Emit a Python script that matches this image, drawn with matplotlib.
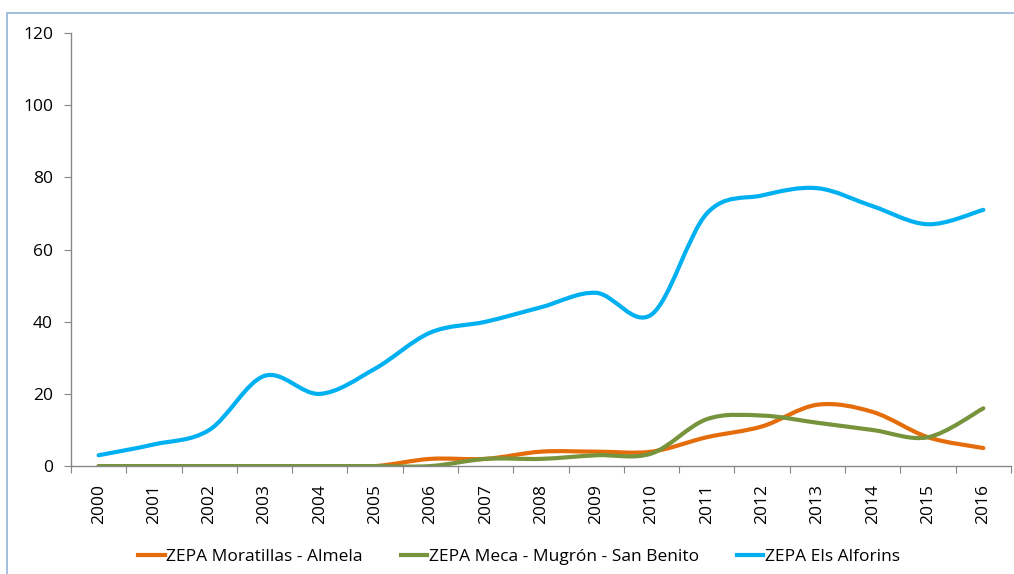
import matplotlib
matplotlib.use("Agg")
import matplotlib.pyplot as plt
from matplotlib.path import Path
from matplotlib.patches import PathPatch
from matplotlib.lines import Line2D

# data
years = [str(y) for y in range(2000, 2017)]
moratillas = [0, 0, 0, 0, 0, 0, 2, 2, 4, 4, 4, 8, 11, 17, 15, 8, 5]
meca = [0, 0, 0, 0, 0, 0, 0, 2, 2, 3, 3.5, 13, 14, 12, 10, 8, 16]
alforins = [3, 6, 10, 25, 20, 27, 37, 40, 44, 48, 42, 70, 75, 77, 72, 67, 71]
labels = ["ZEPA Moratillas - Almela", "ZEPA Meca - Mugrón - San Benito", "ZEPA Els Alforins"]
colors = ["#E46C0A", "#77933C", "#00B0F0"]

plt.rcParams['font.family'] = ['Open Sans', 'DejaVu Sans']


def smooth_path(xs, ys):
    # Excel-style smoothed line: cubic bezier through every point
    pts = list(zip(xs, ys))
    n = len(pts)
    verts = [pts[0]]
    codes = [Path.MOVETO]
    for i in range(n - 1):
        p0 = pts[i - 1] if i > 0 else pts[i]
        p1 = pts[i]
        p2 = pts[i + 1]
        p3 = pts[i + 2] if i + 2 < n else pts[i + 1]
        c1 = (p1[0] + (p2[0] - p0[0]) / 6, p1[1] + (p2[1] - p0[1]) / 6)
        c2 = (p2[0] - (p3[0] - p1[0]) / 6, p2[1] - (p3[1] - p1[1]) / 6)
        verts += [c1, c2, p2]
        codes += [Path.CURVE4] * 3
    return Path(verts, codes)


fig = plt.figure(figsize=(10.14, 5.74), dpi=100)
ax = fig.add_axes([0.070, 0.188, 0.927, 0.7545])

x = list(range(len(years)))
handles = []
for vals, lab, col in zip([moratillas, meca, alforins], labels, colors):
    patch = PathPatch(smooth_path(x, vals), facecolor='none', edgecolor=col,
                      lw=3, capstyle='round', joinstyle='round')
    ax.add_patch(patch)
    handles.append(Line2D([0], [0], color=col, lw=3))

ax.set_xlim(-0.5, len(years) - 0.5)
ax.set_ylim(0, 120)
ax.set_yticks(range(0, 121, 20))

ax.set_xticks([i - 0.5 for i in range(len(years) + 1)])
ax.set_xticklabels([])
ax.set_xticks(x, minor=True)
ax.set_xticklabels(years, minor=True, rotation=90)
ax.tick_params(axis='x', which='minor', length=0, pad=13, labelsize=12.5)
ax.tick_params(axis='x', which='major', length=5, color='#868686', direction='out')
ax.tick_params(axis='y', length=5, color='#868686', labelsize=12.5, pad=8)

for s in ['top', 'right']:
    ax.spines[s].set_visible(False)
for s in ['left', 'bottom']:
    ax.spines[s].set_color('#868686')
    ax.spines[s].set_linewidth(1)

fig.legend(handles, labels, loc='lower center', bbox_to_anchor=(0.512, -0.012), ncol=3,
           frameon=False, fontsize=12.5, handlelength=1.5, handletextpad=0.1,
           columnspacing=2.2)

# outer border of the chart area
fig.patches.append(plt.Rectangle((7 / 1014, -0.1), 1.1, 1.1 - 13 / 574,
                                 transform=fig.transFigure, fill=False,
                                 edgecolor='#95B3D7', lw=1.2))

fig.savefig("out.png", dpi=100)
